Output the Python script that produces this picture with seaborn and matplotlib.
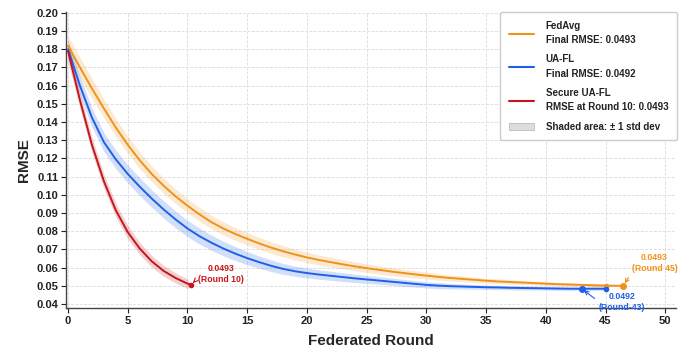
import numpy as np
import pandas as pd
import matplotlib
matplotlib.use("Agg")
import matplotlib.pyplot as plt
from matplotlib.lines import Line2D
from matplotlib.patches import Patch
import seaborn as sns

# ---------------- data ----------------
fedavg_rounds = list(range(0, 46)) + [46.5]
fedavg_rmse = [0.182, 0.170, 0.1585, 0.1475, 0.137, 0.1275, 0.119, 0.1115, 0.105, 0.0992,
               0.094, 0.0893, 0.085, 0.0815, 0.0785, 0.0758, 0.0733, 0.071, 0.069, 0.0672,
               0.0656, 0.0642, 0.063, 0.0618, 0.0607, 0.0597, 0.0588, 0.0579, 0.0571, 0.0563,
               0.0556, 0.0549, 0.0543, 0.0538, 0.0533, 0.0528, 0.0524, 0.0521, 0.0518, 0.0515,
               0.0512, 0.0509, 0.0507, 0.0505, 0.0503, 0.0501, 0.0500]
fedavg_std = [0.0055, 0.0055, 0.0055, 0.0052, 0.0050, 0.0048, 0.0046, 0.0044, 0.0042, 0.0040,
              0.0039, 0.0038, 0.0037, 0.0036, 0.0035, 0.0034, 0.0033, 0.0032, 0.0031, 0.0030,
              0.0029, 0.0028, 0.0027, 0.0026, 0.0025, 0.0024, 0.0023, 0.0022, 0.0021, 0.0020,
              0.0019, 0.0018, 0.0017, 0.0016, 0.0015, 0.0014, 0.0013, 0.0012, 0.0011, 0.0010,
              0.0010, 0.0009, 0.0009, 0.0008, 0.0008, 0.0008, 0.0]

uafl_rounds = list(range(0, 46))
uafl_rmse = [0.180, 0.160, 0.1425, 0.129, 0.1195, 0.1115, 0.1045, 0.098, 0.092, 0.0865,
             0.0815, 0.0773, 0.0737, 0.0705, 0.0677, 0.0652, 0.063, 0.061, 0.0593, 0.0580,
             0.0570, 0.0562, 0.0555, 0.0548, 0.0541, 0.0535, 0.0529, 0.0523, 0.0517, 0.0511,
             0.0505, 0.0501, 0.0498, 0.0496, 0.0494, 0.0492, 0.0491, 0.0489, 0.0488, 0.0487,
             0.0486, 0.0485, 0.0484, 0.0484, 0.0484, 0.0484]
uafl_std = [0.0050, 0.0052, 0.0052, 0.0052, 0.0051, 0.0050, 0.0049, 0.0048, 0.0047, 0.0046,
            0.0045, 0.0044, 0.0042, 0.0040, 0.0038, 0.0036, 0.0034, 0.0032, 0.0030, 0.0028,
            0.0027, 0.0026, 0.0025, 0.0024, 0.0023, 0.0022, 0.0021, 0.0020, 0.0019, 0.0018,
            0.0017, 0.0016, 0.0015, 0.0014, 0.0013, 0.0012, 0.0012, 0.0011, 0.0011, 0.0010,
            0.0010, 0.0010, 0.0009, 0.0009, 0.0009, 0.0009]

secure_rounds = list(range(0, 11)) + [10.3]
secure_rmse = [0.179, 0.152, 0.1275, 0.1075, 0.0915, 0.0795, 0.0705, 0.0635, 0.0582, 0.0543,
               0.0512, 0.0505]
secure_std = [0.0060, 0.0045, 0.0042, 0.0040, 0.0038, 0.0036, 0.0034, 0.0032, 0.0030, 0.0028,
              0.0026, 0.0]

x_ticks = [0, 5, 10, 15, 20, 25, 30, 35, 40, 45, 50]
y_ticks = [0.04, 0.05, 0.06, 0.07, 0.08, 0.09, 0.10, 0.11, 0.12, 0.13, 0.14,
           0.15, 0.16, 0.17, 0.18, 0.19, 0.20]

labels = ["FedAvg\nFinal RMSE: 0.0493",
          "UA-FL\nFinal RMSE: 0.0492",
          "Secure UA-FL\nRMSE at Round 10: 0.0493",
          "Shaded area: \u00b1 1 std dev"]

C_ORANGE = "#f0921a"
C_BLUE = "#2060e8"
C_RED = "#c4161c"

# ---------------- plot ----------------
sns.set_theme(style="whitegrid")
plt.rcParams["font.family"] = ["Liberation Sans", "DejaVu Sans"]

fig = plt.figure(figsize=(6.89, 3.5), dpi=100)
ax = fig.add_axes([66 / 689, 1 - 308 / 350, (676 - 66) / 689, (308 - 12) / 350])

series = [
    (fedavg_rounds, fedavg_rmse, fedavg_std, C_ORANGE),
    (uafl_rounds, uafl_rmse, uafl_std, C_BLUE),
    (secure_rounds, secure_rmse, secure_std, C_RED),
]
for xs, ys, sd, col in series:
    df = pd.DataFrame({"round": xs, "rmse": ys})
    lo = np.array(ys) - np.array(sd)
    hi = np.array(ys) + np.array(sd)
    ax.fill_between(xs, lo, hi, color=col, alpha=0.2, linewidth=0)
    sns.lineplot(data=df, x="round", y="rmse", color=col, linewidth=1.4, ax=ax,
                 legend=False)

# end markers
ax.plot([fedavg_rounds[-2]], [fedavg_rmse[-2]], "o", color=C_ORANGE, ms=3)
ax.plot([fedavg_rounds[-1]], [fedavg_rmse[-1]], "o", color=C_ORANGE, ms=4)
ax.plot([uafl_rounds[43]], [uafl_rmse[43]], "o", color=C_BLUE, ms=4)
ax.plot([uafl_rounds[-1]], [uafl_rmse[-1]], "o", color=C_BLUE, ms=3)
ax.plot([secure_rounds[-1]], [secure_rmse[-1]], "o", color=C_RED, ms=3)

ann_kw = dict(fontsize=6.3, fontweight="bold", ha="center", va="center",
              linespacing=1.35)


def arrow(col, rel):
    return dict(arrowstyle="->", lw=0.8, shrinkA=1, shrinkB=2, mutation_scale=7,
                color=col, relpos=rel)


ax.annotate("0.0493\n(Round 10)", xy=(secure_rounds[-1], secure_rmse[-1]),
            xytext=(12.8, 0.0566), color=C_RED,
            arrowprops=arrow(C_RED, (0.0, 0.3)), **ann_kw)
ax.annotate("0.0493\n(Round 45)", xy=(fedavg_rounds[-1], fedavg_rmse[-1]),
            xytext=(49.1, 0.0626), color=C_ORANGE,
            arrowprops=arrow(C_ORANGE, (0.0, 0.05)), **ann_kw)
ax.annotate("0.0492\n(Round-43)", xy=(uafl_rounds[43], uafl_rmse[43]),
            xytext=(46.4, 0.0412), color=C_BLUE,
            arrowprops=arrow(C_BLUE, (0.0, 0.5)), **ann_kw)

ax.set_xlim(-0.17, 50.9)
ax.set_ylim(0.0378, 0.2005)
ax.set_xticks(x_ticks)
ax.set_yticks(y_ticks)
ax.set_xticklabels([str(t) for t in x_ticks])
ax.set_yticklabels([f"{t:.2f}" for t in y_ticks])
ax.tick_params(axis="both", labelsize=8, length=3.5, width=0.8, colors="#222222",
               direction="out", bottom=True, left=True, pad=2)
for lab in ax.get_xticklabels() + ax.get_yticklabels():
    lab.set_fontweight("bold")

ax.grid(True, color="#dcdcdc", linestyle="--", linewidth=0.6)
ax.set_facecolor("white")
for s in ["top", "right"]:
    ax.spines[s].set_visible(False)
for s in ["left", "bottom"]:
    ax.spines[s].set_color("#444444")
    ax.spines[s].set_linewidth(1.0)

ax.set_xlabel("Federated Round", fontsize=11, fontweight="bold", labelpad=6)
ax.set_ylabel("RMSE", fontsize=11, fontweight="bold", labelpad=4)

handles = [Line2D([0], [0], color=C_ORANGE, lw=1.5),
           Line2D([0], [0], color=C_BLUE, lw=1.5),
           Line2D([0], [0], color=C_RED, lw=1.5),
           Patch(facecolor="#dddddd", edgecolor="#bbbbbb", lw=0.6)]
leg = ax.legend(handles, labels, loc="upper right", bbox_to_anchor=(1.002, 1.0),
                fontsize=7, frameon=True, framealpha=1, edgecolor="#cccccc",
                borderpad=0.9, labelspacing=0.95, handlelength=2.6,
                handletextpad=1.2, borderaxespad=0.0)
for t in leg.get_texts():
    t.set_fontweight("bold")
    t.set_color("#222222")
    t.set_linespacing(1.55)

fig.savefig("out.png", dpi=100, facecolor="white")
